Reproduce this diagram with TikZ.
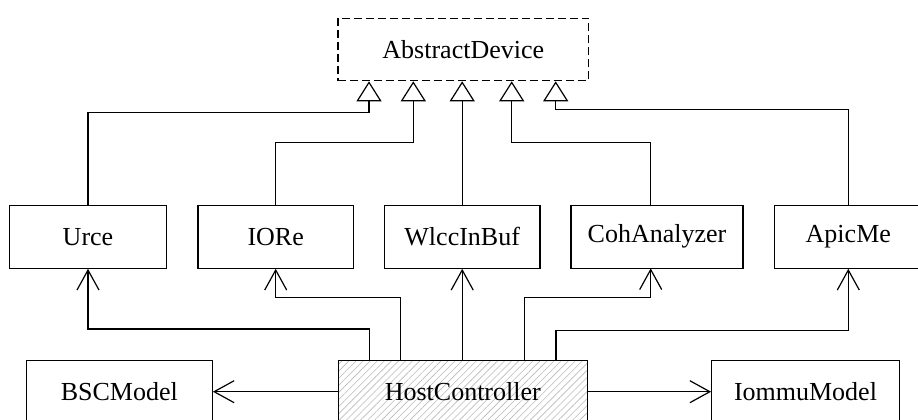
\documentclass[tikz,border=0pt]{standalone}
\usepackage{fontspec}
\setmainfont{Liberation Serif}
\usetikzlibrary{arrows.meta,patterns.meta,calc}
\begin{document}
\begin{tikzpicture}[x=1pt,y=-1pt,
  box/.style={draw,line width=1.2pt,rectangle,minimum height=63pt,inner sep=0pt,font=\fontsize{26}{30}\selectfont},
  gen/.style={draw,line width=1.2pt,-{Triangle[open,length=20pt,width=25pt,line width=1.2pt]}},
  assoc/.style={draw,line width=1.2pt,-{Straight Barb[length=20pt,width=22pt,line width=1.2pt]}}]
\useasboundingbox (0,0) rectangle (918,420);
% top
\node[box,dash pattern=on 8pt off 4pt,minimum width=250.7pt,minimum height=62.4pt] (AD) at (463.3,49.5) {AbstractDevice};
% middle
\node[box,minimum width=157.4pt] (Urce) at (88,236.7) {Urce};
\node[box,minimum width=155.3pt] (IORe) at (275.7,236.7) {IORe};
\node[box,minimum width=155.7pt] (Wlcc) at (462.2,236.7) {WlccInBuf};
\node[box,minimum width=172pt] (Coh) at (657,236.7) {CohAnalyzer};
\node[box,minimum width=148pt] (Apic) at (848.3,236.7) {ApicMe};
% bottom
\node[box,minimum width=186pt] (BSC) at (119.3,391.7) {BSCModel};
\node[box,minimum width=249pt,pattern={Lines[angle=45,distance=5pt,line width=0.6pt]},pattern color=gray!55] (HC) at (462.8,391.7) {};
\node[font=\fontsize{26}{30}\selectfont] (HCt) at (HC.center) {HostController};
\node[box,minimum width=187.6pt] (IOM) at (805.5,391.7) {IommuModel};
% generalisation
\coordinate (g1) at (369,112.3);
\coordinate (g2) at (413.3,142.3);
\coordinate (g4) at (511.7,142.3);
\coordinate (g5) at (555.7,109.3);
\coordinate (cohtop) at (650.7,205);
\path[gen] (Urce.north) |- (g1) -- (g1 |- AD.south);
\path[gen] (IORe.north) |- (g2) -- (g2 |- AD.south);
\path[gen] (Wlcc.north) -- (Wlcc.north |- AD.south);
\path[gen] (cohtop) |- (g4) -- (g4 |- AD.south);
\path[gen] (Apic.north) |- (g5) -- (g5 |- AD.south);
% associations
\coordinate (a1) at (369.3,329);
\coordinate (a2) at (400.7,297.3);
\coordinate (a4) at (524.7,297.3);
\coordinate (a5) at (556,330.7);
\coordinate (cohbot) at (650.7,268.3);
\path[assoc] (a1 |- HC.north) |- (a1 -| Urce.south) -- (Urce.south);
\path[assoc] (a2 |- HC.north) |- (a2 -| IORe.south) -- (IORe.south);
\path[assoc] (Wlcc.south |- HC.north) -- (Wlcc.south);
\path[assoc] (a4 |- HC.north) |- (a4 -| cohbot) -- (cohbot);
\path[assoc] (a5 |- HC.north) |- (a5 -| Apic.south) -- (Apic.south);
\path[assoc] (HC.west) -- (BSC.east);
\path[assoc] (HC.east) -- (IOM.west);
\end{tikzpicture}
\end{document}
